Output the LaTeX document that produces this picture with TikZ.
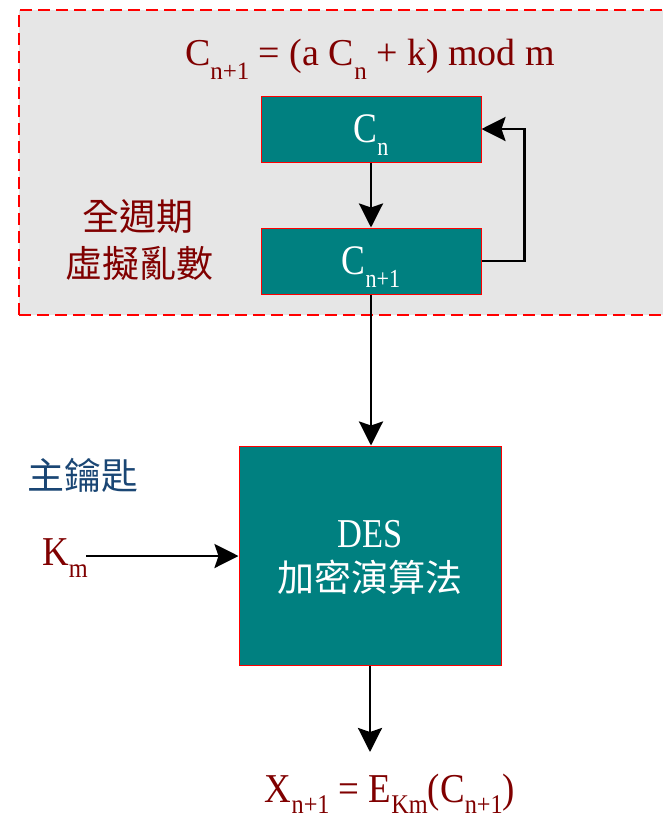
\documentclass[tikz,border=0pt]{standalone}
\usepackage{fontspec}
\usepackage{graphicx}
\setmainfont{Liberation Serif}
\newfontfamily\cjk{Noto Sans CJK TC}
\usetikzlibrary{arrows.meta}
\definecolor{dred}{HTML}{800000}
\definecolor{tealbox}{HTML}{008080}
\definecolor{kblue}{HTML}{1A4674}
\definecolor{bggray}{HTML}{E6E6E6}
\newcommand\dsub[3]{\raisebox{-#2}{\fontsize{#1}{#1}\selectfont #3}}
\newcommand\fs[1]{\fontsize{#1}{#1}\selectfont}
\begin{document}
\begin{tikzpicture}[x=1pt,y=-1pt,
  arr/.style={line width=2.8pt,-{Stealth[length=24pt,width=24pt,inset=4pt]}},
  cbox/.style={draw=red,line width=1pt,fill=tealbox,minimum width=220pt,minimum height=66pt,inner sep=0pt,text=white,text depth=0pt},
  bigbox/.style={draw=red,line width=1pt,fill=tealbox,minimum width=262pt,minimum height=219pt,inner sep=0pt},
  redtxt/.style={text=dred,inner sep=0pt},
  whitetxt/.style={text=white,inner sep=0pt}]
\useasboundingbox (0,0) rectangle (663,820);
\clip (0,0) rectangle (663,820);
% gray dashed region
\fill[bggray] (19,10) rectangle (700,315);
\draw[red,line width=2pt,dash pattern=on 12pt off 6pt] (19,315) -- (19,10) -- (700,10);
\draw[red,line width=2pt,dash pattern=on 12pt off 6pt] (19,315) -- (700,315);
% formula
\node[redtxt,anchor=base] (eq) at (370,65) {\fs{38}C\dsub{25}{14pt}{n+1} = (a C\dsub{25}{14pt}{n} + k) mod m};
% boxes
\node[cbox] (c0) at (371,129) {\scalebox{0.85}[1]{\fs{42}C\dsub{26}{13pt}{n}}};
\node[cbox] (c1) at (371,261) {\scalebox{0.85}[1]{\fs{42}C\dsub{26}{13pt}{n+1}}};
\node[bigbox] (des) at (370,555.5) {};
\node[whitetxt,anchor=base] (destxt) at (370,547) {\scalebox{0.84}[1]{\fs{41}DES}};
\node[whitetxt,anchor=base] (alg) at (370,591) {\cjk\fs{37}加密演算法};
% side labels
\node[redtxt,anchor=base] (lab1) at (138,230) {\cjk\fs{37}全週期};
\node[redtxt,anchor=base] (lab2) at (139,277) {\cjk\fs{37}虛擬亂數};
\node[inner sep=0pt,text=kblue,anchor=base west] (mk) at (27,489) {\cjk\fs{37}主鑰匙};
\node[redtxt,anchor=base west] (km) at (42,565) {\scalebox{0.9}[1]{\fs{41}K\dsub{27}{12pt}{m}}};
\node[redtxt,anchor=base] (out) at (390,802) {\scalebox{0.9}[1]{\fs{41}X\dsub{27}{11pt}{n+1} = E\dsub{27}{11pt}{Km}(C\dsub{27}{11pt}{n+1})}};
% connectors
\coordinate (kmtail) at (86,556);
\coordinate (outtip) at (370,752);
\draw[arr] (c0) -- (c1);
\draw[arr] (c1.east) -- ++(43,0) |- (c0.east);
\draw[arr] (c1.south) -- (c1.south |- des.north);
\draw[arr] (des.south) -- (outtip);
\draw[arr] (kmtail) -- (kmtail -| des.west);
\end{tikzpicture}
\end{document}
